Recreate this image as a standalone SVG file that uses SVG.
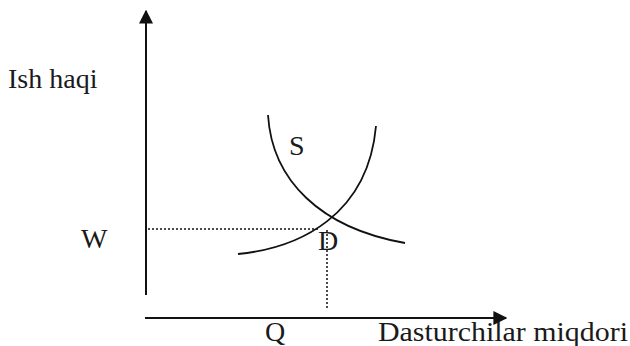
<svg xmlns="http://www.w3.org/2000/svg" width="630" height="346" viewBox="0 0 630 346">
<style>
.t{font-family:"Liberation Serif","Times New Roman",serif;font-size:28px;fill:#1a1a1a}
.ax{stroke:#111;stroke-width:2;fill:none}
.cv{stroke:#111;stroke-width:1.8;fill:none}
.dot{stroke:#111;stroke-width:1.5;stroke-dasharray:2 2;fill:none}
</style>
<defs>
<marker id="ah" viewBox="0 0 10 10" refX="9" refY="5" markerWidth="7" markerHeight="7" markerUnits="strokeWidth" orient="auto">
<path d="M0,0 L10,5 L0,10 z" fill="#111"/>
</marker>
</defs>
<rect width="630" height="346" fill="#fff"/>
<g id="connectors">
<line class="ax" x1="146" y1="295" x2="146" y2="11" marker-end="url(#ah)"/>
<line class="ax" x1="145" y1="318" x2="506" y2="318" marker-end="url(#ah)"/>
<path class="dot" d="M148,229 H320"/>
<path class="dot" d="M327,230 V310"/>
</g>
<g id="curve-S"><path class="cv" d="M268,115 C272,180 320,228 405,243"/></g>
<g id="curve-D"><path class="cv" d="M238,254 C300,248 368,215 376,126"/></g>
<g id="labels">
<text class="t" x="8" y="88">Ish haqi</text>
<text class="t" x="289" y="155">S</text>
<text class="t" x="81" y="248">W</text>
<text class="t" x="318" y="250">D</text>
<text class="t" x="265" y="341">Q</text>
<text class="t" x="378" y="341" textLength="250" lengthAdjust="spacingAndGlyphs">Dasturchilar miqdori</text>
</g>
</svg>
